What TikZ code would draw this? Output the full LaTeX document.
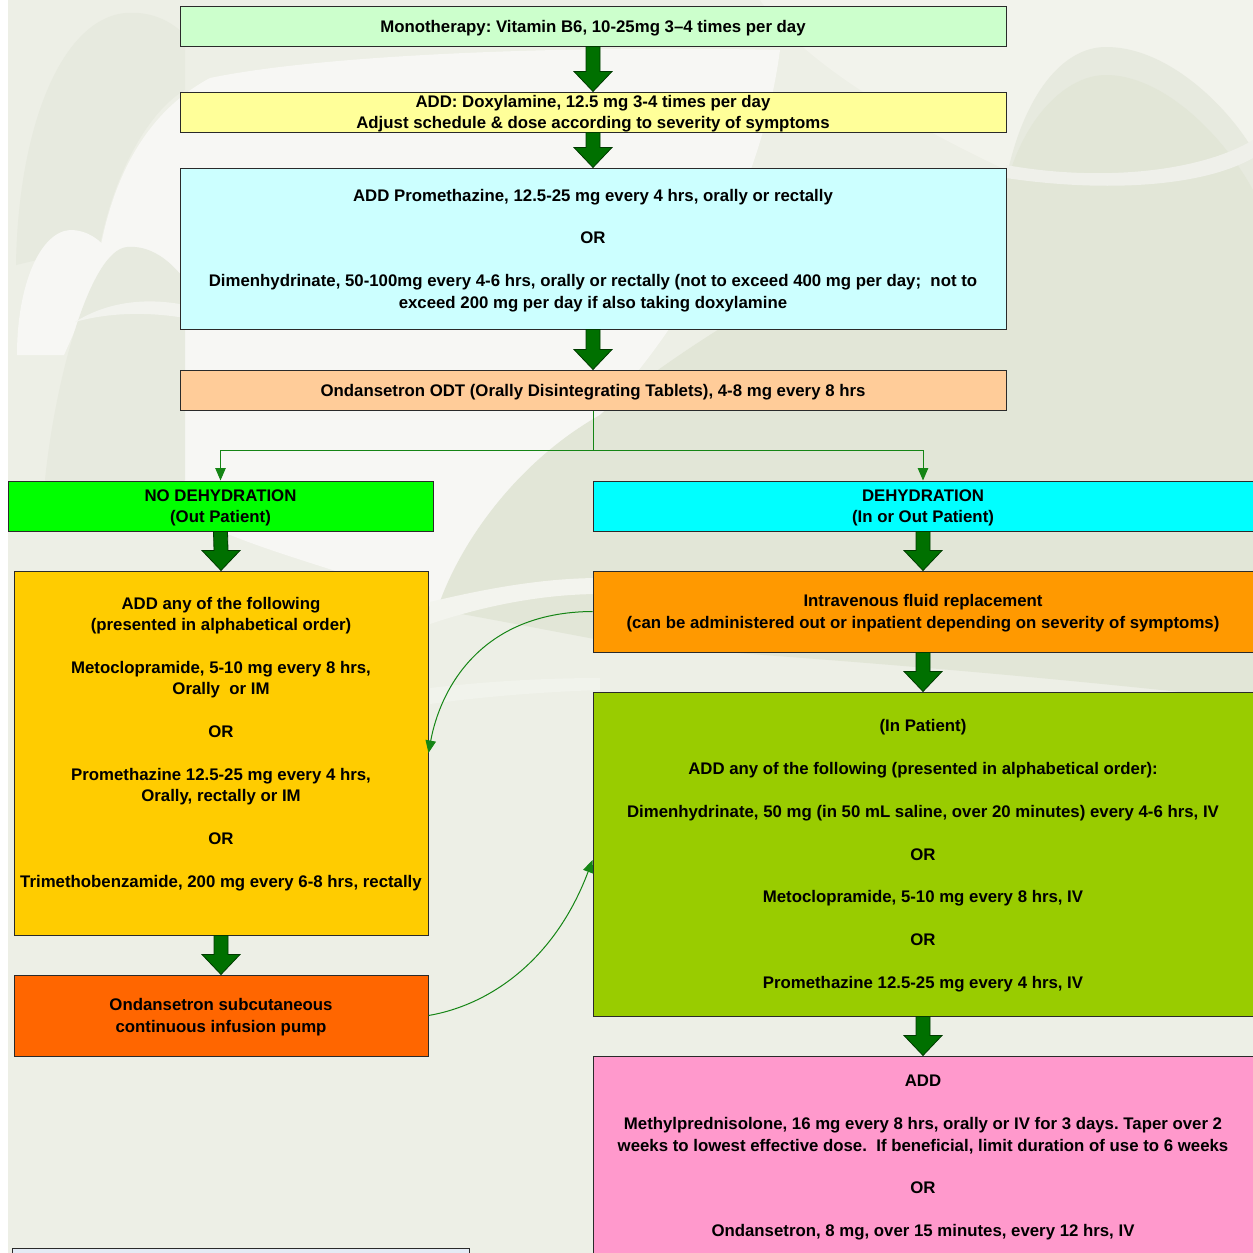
\documentclass[tikz,border=0pt]{standalone}
\usepackage{fontspec}
\setmainfont{Liberation Sans}
\frenchspacing
\usetikzlibrary{arrows.meta,calc}
\definecolor{bgbase}{HTML}{EDEFE6}
\definecolor{bglight}{HTML}{F7F7F4}
\definecolor{bgtop}{HTML}{F2F3EC}
\definecolor{bgdark}{HTML}{E2E6D7}
\definecolor{bgmid}{HTML}{E7EADF}
\definecolor{boxline}{HTML}{2A2A2A}
\definecolor{agreen}{HTML}{007000}
\definecolor{agreenline}{HTML}{003A00}
\definecolor{cgreen}{HTML}{158515}
\definecolor{cMono}{HTML}{CCFFCC}
\definecolor{cDoxy}{HTML}{FFFF99}
\definecolor{cProm}{HTML}{CCFFFF}
\definecolor{cOdt}{HTML}{FFCC99}
\definecolor{cNoDeh}{HTML}{00FF00}
\definecolor{cDeh}{HTML}{00FFFF}
\definecolor{cLeft}{HTML}{FFCC00}
\definecolor{cSub}{HTML}{FF6600}
\definecolor{cIV}{HTML}{FF9900}
\definecolor{cInp}{HTML}{99CC00}
\definecolor{cPink}{HTML}{FF99CC}
\definecolor{cBlue}{HTML}{E4EBF5}
\newcommand{\blockarrow}[2]{%
  \filldraw[fill=agreen,draw=agreenline,line width=0.8pt]
    ($(#1.south)+(-7,0)$) -- ($(#2.north)+(-7,-20)$) -- ($(#2.north)+(-19,-20)$)
    -- (#2.north) -- ($(#2.north)+(19,-20)$) -- ($(#2.north)+(7,-20)$)
    -- ($(#1.south)+(7,0)$) -- cycle;}
% #1 name, #2 fill, #3 width, #4 height, #5 centre, #6 text
\newcommand{\flowbox}[6]{%
  \node[boxshape,fill=#2,minimum width=#3,minimum height=#4] (#1) at #5 {};
  \node[boxtext] (#1-t) at ($(#1.center)+(0,1.8)$) {#6};}
\begin{document}
\begin{tikzpicture}[x=1pt,y=-1pt,
  boxshape/.style={draw=boxline,line width=1pt,inner sep=0pt},
  boxtext/.style={align=center,inner sep=0pt,
    font=\bfseries\fontsize{16.8}{21.4}\selectfont,text=black},
  conn/.style={draw=cgreen,line width=1pt},
  tip/.style={-{Triangle[width=10.5pt,length=12.5pt]}}]
\useasboundingbox (0,0) rectangle (1253,1253);
\begin{scope}
\clip (0,0) rectangle (1253,1253);
% ---------- background ----------
\fill[white] (0,0) rectangle (1253,1253);
\fill[bgbase] (8,0) rectangle (1253,1253);
% top right light area
\fill[bgtop] (760,0) -- (1253,0) -- (1253,170) -- (1006,170)
  .. controls (900,120) and (800,60) .. (760,0) -- cycle;
% top-left dark arch
\fill[bgmid] (16,265) .. controls (18,130) and (60,20) .. (125,13)
  .. controls (150,11) and (170,20) .. (185,35) -- (185,90)
  .. controls (150,110) and (115,170) .. (100,245) -- cycle;
% big light swoosh
\fill[bglight] (100,250) .. controls (115,170) and (150,110) .. (210,78)
  .. controls (320,55) and (560,45) .. (780,50)
  .. controls (760,200) and (680,330) .. (600,415)
  .. controls (530,460) and (470,530) .. (437,610)
  .. controls (350,565) and (200,545) .. (140,480)
  .. controls (125,400) and (112,320) .. (100,250) -- cycle;
% left white arch
\fill[bglight] (17,355) .. controls (17,285) and (40,232) .. (70,230)
  .. controls (88,230) and (100,240) .. (110,252) -- (64,355) -- cycle;
% left lower dark arch
\fill[bgmid] (45,480) .. controls (55,380) and (90,250) .. (127,247)
  .. controls (150,245) and (170,260) .. (185,280) -- (185,480)
  .. controls (150,520) and (90,540) .. (45,480) -- cycle;
\fill[bglight!70!bgmid] (75,322) .. controls (110,300) and (150,298) .. (185,305)
  -- (185,318) .. controls (150,312) and (110,312) .. (75,322) -- cycle;
% right outer arch
\fill[bgmid] (1004,190) .. controls (1020,100) and (1060,47) .. (1106,47)
  .. controls (1170,47) and (1230,110) .. (1253,150) -- (1253,480) -- (1004,480) -- cycle;
% right inner dark arch + central dark leaf
\fill[bgdark] (1010,172) .. controls (1030,110) and (1070,75) .. (1106,75)
  .. controls (1160,75) and (1220,130) .. (1253,190) -- (1253,700)
  .. controls (900,660) and (650,650) .. (600,640)
  .. controls (520,625) and (470,615) .. (437,610)
  .. controls (460,540) and (520,460) .. (600,415)
  .. controls (700,330) and (850,250) .. (1010,172) -- cycle;
\fill[bgmid!50!bglight] (1006,165) .. controls (1100,182) and (1200,172) .. (1253,140)
  -- (1253,158) .. controls (1200,188) and (1100,192) .. (1006,178) -- cycle;
% light swoosh bands in the middle gap
\fill[bglight!60!bgbase] (430,602) .. controls (480,590) and (540,578) .. (600,578)
  -- (600,594) .. controls (540,594) and (480,607) .. (430,624) -- cycle;
\fill[bglight!45!bgbase] (430,688) .. controls (480,682) and (540,678) .. (600,678)
  -- (600,690) .. controls (540,692) and (480,697) .. (430,704) -- cycle;

% ---------- boxes ----------
\flowbox{mono}{cMono}{826}{40}{(593,26)}
  {Monotherapy: Vitamin B6, 10-25mg 3--4 times per day}
\flowbox{doxy}{cDoxy}{826}{40}{(593,112)}
  {ADD: Doxylamine, 12.5 mg 3-4 times per day\\Adjust schedule \& dose according to severity of symptoms}
\flowbox{prom}{cProm}{826}{161}{(593,248.5)}
  {ADD Promethazine, 12.5-25 mg every 4 hrs, orally or rectally\\[21.4pt]OR\\[21.4pt]Dimenhydrinate, 50-100mg every 4-6 hrs, orally or rectally (not to exceed 400 mg per day;\ \ not to\\exceed 200 mg per day if also taking doxylamine}
\flowbox{odt}{cOdt}{826}{40}{(593,390)}
  {Ondansetron ODT (Orally Disintegrating Tablets), 4-8 mg every 8 hrs}
\flowbox{nodeh}{cNoDeh}{425}{50}{(220.5,506)}
  {NO DEHYDRATION\\(Out Patient)}
\flowbox{deh}{cDeh}{660}{50}{(923,506)}
  {DEHYDRATION\\(In or Out Patient)}
\flowbox{left}{cLeft}{414}{364}{(221,753)}
  {ADD any of the following\\(presented in alphabetical order)\\[21.4pt]Metoclopramide, 5-10 mg every 8 hrs,\\Orally\ \ or IM\\[21.4pt]OR\\[21.4pt]Promethazine 12.5-25 mg every 4 hrs,\\Orally, rectally or IM\\[21.4pt]OR\\[21.4pt]Trimethobenzamide, 200 mg every 6-8 hrs, rectally\\[4pt]\mbox{}}
\flowbox{sub}{cSub}{414}{81}{(221,1015.5)}
  {Ondansetron subcutaneous\\continuous infusion pump}
\flowbox{iv}{cIV}{660}{81}{(923,611.5)}
  {Intravenous fluid replacement\\(can be administered out or inpatient depending on severity of symptoms)}
\flowbox{inp}{cInp}{660}{324}{(923,854)}
  {(In Patient)\\[21.4pt]ADD any of the following (presented in alphabetical order):\\[21.4pt]Dimenhydrinate, 50 mg (in 50 mL saline, over 20 minutes) every 4-6 hrs, IV\\[21.4pt]OR\\[21.4pt]Metoclopramide, 5-10 mg every 8 hrs, IV\\[21.4pt]OR\\[21.4pt]Promethazine 12.5-25 mg every 4 hrs, IV}
\flowbox{pink}{cPink}{660}{200}{(923,1156)}
  {ADD\\[21.4pt]Methylprednisolone, 16 mg every 8 hrs, orally or IV for 3 days. Taper over 2\\weeks to lowest effective dose.\ \ If beneficial, limit duration of use to 6 weeks\\[21.4pt]OR\\[21.4pt]Ondansetron, 8 mg, over 15 minutes, every 12 hrs, IV}
\node[boxshape,fill=cBlue,minimum width=457,minimum height=64] (blue) at (240.5,1280) {};

% ---------- block arrows ----------
\blockarrow{mono}{doxy}
\blockarrow{doxy}{prom}
\blockarrow{prom}{odt}
\blockarrow{nodeh}{left}
\blockarrow{left}{sub}
\blockarrow{deh}{iv}
\blockarrow{iv}{inp}
\blockarrow{inp}{pink}

% ---------- thin connectors ----------
\coordinate (split) at (593,450);
\draw[conn] (odt.south) -- (split);
\draw[conn,tip] (split) -| (nodeh.north);
\draw[conn,tip] (split) -| (deh.north);
\draw[conn,tip] (iv.west) .. controls (480,612) and (440,690) .. (left.east);
\draw[conn,tip] (sub.east) .. controls (490,1005) and (555,960) .. ($(inp.west)+(0,6)$);
\end{scope}
\end{tikzpicture}
\end{document}
